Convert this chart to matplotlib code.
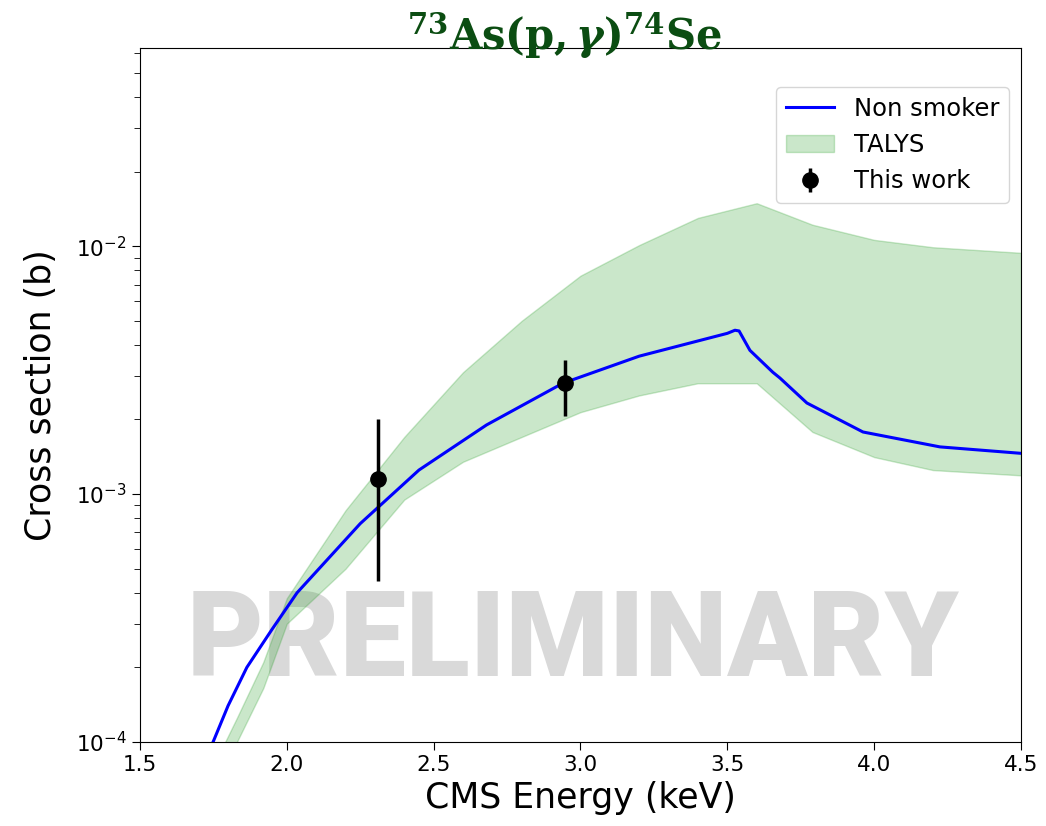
import numpy as np
import matplotlib
matplotlib.use("Agg")
import matplotlib.pyplot as plt

plt.rcParams['mathtext.fontset'] = 'dejavuserif'

# Non smoker curve
ns_E = [1.70, 1.749, 1.80, 1.864, 1.95, 2.035, 2.25, 2.45, 2.68, 2.94, 3.20, 3.50, 3.526, 3.54,
        3.577, 3.655, 3.679, 3.771, 3.962, 4.224, 4.5]
ns_xs = [7.8e-5, 1.0e-4, 1.4e-4, 2.0e-4, 2.85e-4, 4.0e-4, 7.6e-4, 1.25e-3, 1.9e-3, 2.8e-3, 3.6e-3, 4.45e-3, 4.58e-3, 4.55e-3,
         3.8e-3, 3.1e-3, 2.94e-3, 2.33e-3, 1.78e-3, 1.55e-3, 1.46e-3]

# TALYS band
talys_E = [1.75, 1.79, 1.83, 1.92, 2.0, 2.2, 2.4, 2.6, 2.8, 3.0, 3.2, 3.4, 3.6, 3.79, 4.0, 4.2, 4.5]
talys_hi = [7.5e-5, 1.0e-4, 1.25e-4, 2.1e-4, 3.8e-4, 8.6e-4, 1.7e-3, 3.1e-3, 5.0e-3, 7.6e-3,
            1.01e-2, 1.30e-2, 1.49e-2, 1.22e-2, 1.06e-2, 9.9e-3, 9.4e-3]
talys_lo = [5.5e-5, 7.2e-5, 1.0e-4, 1.65e-4, 3.0e-4, 5.0e-4, 9.5e-4, 1.35e-3, 1.7e-3, 2.14e-3,
            2.5e-3, 2.8e-3, 2.8e-3, 1.78e-3, 1.41e-3, 1.25e-3, 1.19e-3]

# This work
exp_E = [2.31, 2.948]
exp_xs = [1.15e-3, 2.8e-3]
exp_lo = [4.45e-4, 2.07e-3]
exp_hi = [2.0e-3, 3.47e-3]

fig = plt.figure(figsize=(10.46, 8.26), dpi=100)
ax = fig.add_axes([0.1338, 0.1017, 0.8423, 0.8402])

ax.text(0.491, 0.095, "PRELIMINARY", transform=ax.transAxes, ha="center", va="baseline",
        fontsize=85, fontweight="black", family=["Roboto", "DejaVu Sans"],
        color="#d9d9d9", zorder=0)

ax.plot(ns_E, ns_xs, color="blue", lw=2.2, label="Non smoker", zorder=3)
ax.fill_between(talys_E, talys_lo, talys_hi, color="C2", alpha=0.25, label="TALYS", zorder=2)
yerr = [np.array(exp_xs) - np.array(exp_lo), np.array(exp_hi) - np.array(exp_xs)]
ax.errorbar(exp_E, exp_xs, yerr=yerr, fmt="o", color="black", ms=11, elinewidth=2.5,
            label="This work", zorder=4)

ax.set_yscale("log")
ax.set_xlim(1.5, 4.5)
ax.set_ylim(1e-4, 0.063)
ax.tick_params(labelsize=15.5, length=6)
ax.tick_params(which="minor", length=4)
ax.set_xlabel("CMS Energy (keV)", fontsize=25)
ax.set_ylabel("Cross section (b)", fontsize=25, labelpad=13)
ax.legend(loc="upper right", bbox_to_anchor=(1, 0.961), fontsize=17.5)

fig.text(0.54, 0.9395, r"$\mathbf{^{73}As(p,}\boldsymbol{\gamma}\mathbf{)^{74}Se}$", ha="center", va="baseline",
         fontsize=30, color="#0b4d12")

fig.savefig("out.png", dpi=100)
